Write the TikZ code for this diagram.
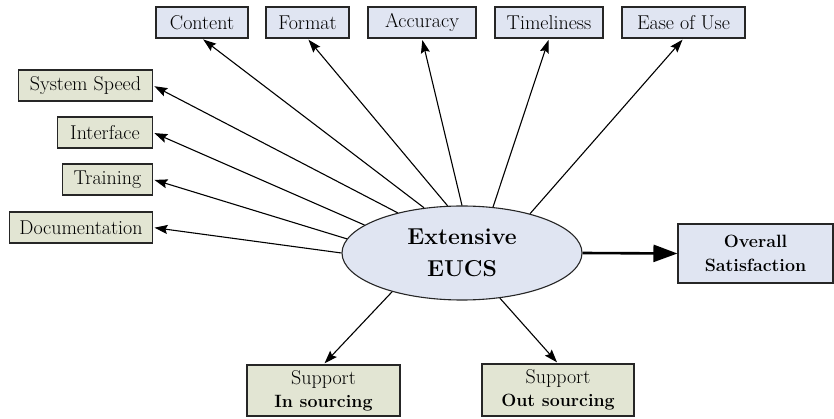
\documentclass[tikz,border=0pt]{standalone}
\usetikzlibrary{arrows.meta,shapes.geometric}
\definecolor{boxblue}{RGB}{224,229,242}
\definecolor{boxgreen}{RGB}{226,229,211}
\tikzset{
	dim/.style={draw=black!85,line width=1.1pt,inner sep=0pt,minimum height=31pt,
		font=\fontsize{20}{23}\selectfont},
	dimtop/.style={dim,fill=boxblue},
	dimleft/.style={dim,fill=boxgreen,anchor=east},
}
\newcommand{\bsrc}[1]{{\fontsize{17.8}{23}\selectfont\bfseries #1}}

\begin{document}
\begin{tikzpicture}[x=1pt,y=-1pt,line width=1.1pt]
	\useasboundingbox (0,0) rectangle (834,419);
	\node[ellipse,draw=black!85,fill=boxblue,minimum width=240pt,minimum height=94pt,inner sep=0pt,
		align=center,font=\fontsize{23}{32}\selectfont\bfseries] (eucs) at (462,253) {Extensive\\EUCS} ;
	\node[dimtop,minimum width=92pt]  (content) at (202,22.5) {Content} ;
	\node[dimtop,minimum width=83pt]  (format)  at (307.5,22.5) {Format} ;
	\node[dimtop,minimum width=108pt] (accur)   at (422,22.5) {Accuracy} ;
	\node[dimtop,minimum width=108pt] (timel)   at (549,22.5) {Timeliness} ;
	\node[dimtop,minimum width=123pt] (ease)    at (683.5,22.5) {Ease of Use} ;
	\node[dimleft,minimum width=134pt] (speed) at (153,85.5) {System Speed} ;
	\node[dimleft,minimum width=95pt]  (inter) at (153,132.5) {Interface} ;
	\node[dimleft,minimum width=90pt]  (train) at (153,179.5) {Training} ;
	\node[dimleft,minimum width=143pt] (docu)  at (153,227.5) {Documentation} ;
	\node[dim,fill=boxgreen,minimum width=153pt,minimum height=51pt,align=center] (insrc) at (323.5,390.5)
		{Support\\\bsrc{In sourcing}} ;
	\node[dim,fill=boxgreen,minimum width=152pt,minimum height=52pt,align=center] (outsrc) at (558,390)
		{Support\\\bsrc{Out sourcing}} ;
	\node[dim,fill=boxblue,minimum width=155pt,minimum height=59pt,align=center,
		font=\fontsize{17.8}{24}\selectfont\bfseries] (overall) at (755.5,253.5) {Overall\\Satisfaction} ;
	\begin{scope}[->,>={Stealth[length=13pt,width=9pt,inset=2pt]},shorten >=1.5pt]
	\draw (eucs.130) -- (content.south) ;
	\draw (eucs.107) -- (format.south) ;
	\draw (eucs.90)  -- (accur.south) ;
	\draw (eucs.56)  -- (timel.south) ;
	\draw (eucs.30)  -- (ease.south) ;
	\draw (eucs.148) -- (speed.east) ;
	\draw (eucs.164) -- (inter.east) ;
	\draw (eucs.173) -- (train.east) ;
	\draw (eucs.180) -- (docu.east) ;
	\draw (eucs.209) -- (insrc.north) ;
	\draw (eucs.310) -- (outsrc.north) ;
	\end{scope}
	\draw[-{Triangle[length=24pt,width=17pt]},line width=2.6pt] (eucs.east) -- (overall.west) ;
\end{tikzpicture}
\end{document}
